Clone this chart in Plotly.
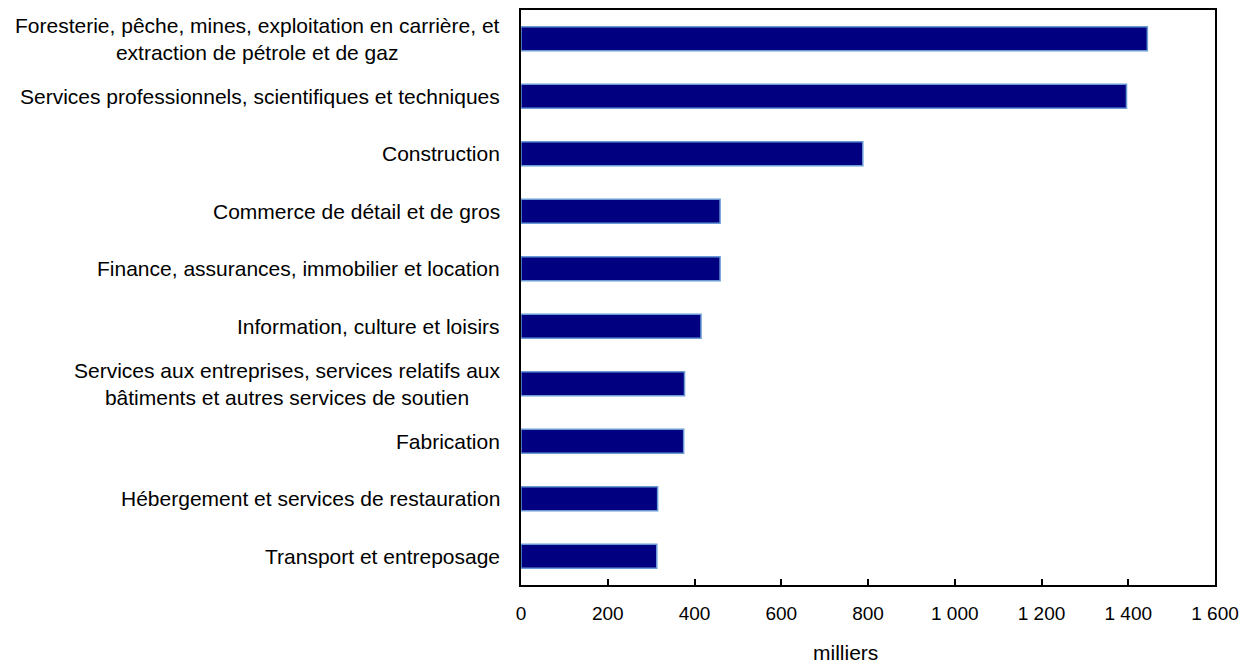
import plotly.graph_objects as go

categories = [
    "Foresterie, pêche, mines, exploitation en carrière, et<br>extraction de pétrole et de gaz",
    "Services professionnels, scientifiques et techniques",
    "Construction",
    "Commerce de détail et de gros",
    "Finance, assurances, immobilier et location",
    "Information, culture et loisirs",
    "Services aux entreprises, services relatifs aux<br>bâtiments et autres services de soutien",
    "Fabrication",
    "Hébergement et services de restauration",
    "Transport et entreposage",
]
values = [1444, 1396, 788, 459, 459, 415, 377, 375, 315, 313]
x_ticks = [0, 200, 400, 600, 800, 1000, 1200, 1400, 1600]
x_title = "milliers"

FONT = "Liberation Sans, Arial, sans-serif"
LABEL_FS = 21
TICK_FS = 19

fig = go.Figure(
    go.Bar(
        x=values,
        y=categories,
        orientation="h",
        width=0.42,
        marker=dict(color="#000080", line=dict(color="#6a9ad6", width=1.5)),
    )
)

annotations = [
    dict(
        text=cat,
        x=0,
        xref="paper",
        y=cat,
        yref="y",
        xanchor="right",
        align="center",
        xshift=-19,
        showarrow=False,
        font=dict(family=FONT, size=LABEL_FS, color="#000000"),
    )
    for cat in categories
]
annotations.append(
    dict(
        text=x_title,
        x=0.468,
        xref="paper",
        y=0,
        yref="paper",
        yanchor="middle",
        yshift=-67,
        showarrow=False,
        font=dict(family=FONT, size=LABEL_FS, color="#000000"),
    )
)

fig.update_layout(
    width=1240,
    height=656,
    margin=dict(l=513, r=33, t=0, b=79),
    paper_bgcolor="white",
    plot_bgcolor="white",
    separators=", ",
    showlegend=False,
    font=dict(family=FONT, size=TICK_FS, color="#000000"),
    xaxis=dict(
        range=[0, 1600],
        tickvals=x_ticks,
        tickformat=",d",
        ticks="inside",
        ticklen=6,
        tickwidth=1.5,
        tickcolor="black",
        showgrid=False,
        zeroline=False,
        showline=True,
        linecolor="black",
        linewidth=2,
        mirror=True,
        tickfont=dict(size=TICK_FS),
        ticklabelstandoff=10,
    ),
    yaxis=dict(
        categoryorder="array",
        categoryarray=categories[::-1],
        showticklabels=False,
        showgrid=False,
        zeroline=False,
        showline=True,
        linecolor="black",
        linewidth=2,
        mirror=True,
        ticks="",
    ),
    annotations=annotations,
)

fig.write_html("out.html")
